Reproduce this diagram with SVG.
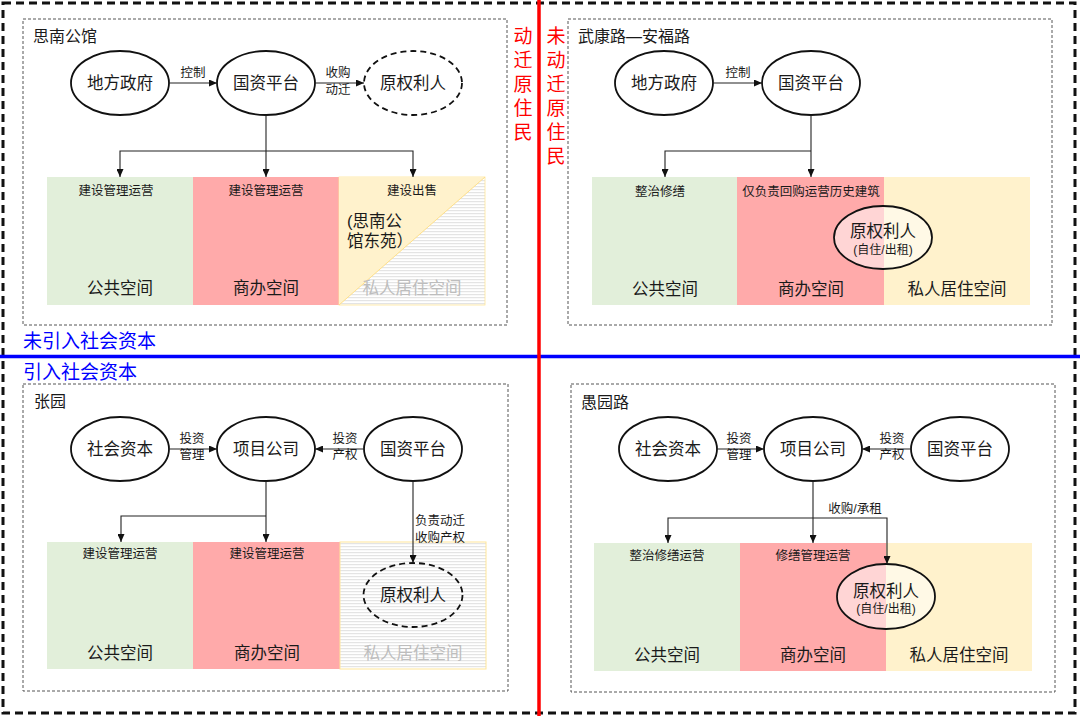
<svg xmlns="http://www.w3.org/2000/svg" width="1080" height="716" viewBox="0 0 1080 716">
<style>
text{font-family:"Liberation Sans","Noto Sans CJK SC",sans-serif;fill:#1a1a1a;text-anchor:middle;dominant-baseline:central}
.node{fill:#fff;stroke:#111;stroke-width:1.8}
.dnode{fill:none;stroke:#111;stroke-width:1.8;stroke-dasharray:6,4}
.inode{fill:#fff;fill-opacity:0.5;stroke:#111;stroke-width:1.8}
.nt{font-size:16.5px}
.lbl{font-size:12.5px}
.op{font-size:12.5px}
.sp{font-size:16.5px}
.gray{fill:#BDBDBD}
.title{font-size:16px;text-anchor:start}
.box{fill:none;stroke:#555;stroke-width:1;stroke-dasharray:3,2}
.conn{fill:none;stroke:#222;stroke-width:1.1}
.g{fill:#E2EFDA}
.p{fill:#FFAAAA}
.y{fill:#FFF2CC}
.red{font-size:19px;fill:#FF0000}
.blue{font-size:19px;fill:#0000FF;text-anchor:start}
</style>
<defs>
<marker id="arr" markerWidth="8" markerHeight="7" refX="8" refY="3.5" orient="auto" markerUnits="userSpaceOnUse">
<path d="M0,0 L8,3.5 L0,7 z" fill="#111"/>
</marker>
<pattern id="hatch" width="6" height="3" patternUnits="userSpaceOnUse">
<rect width="6" height="3" fill="#fff"/>
<rect y="0" width="6" height="1.2" fill="#E4E4E4"/>
</pattern>
</defs>
<rect width="1080" height="716" fill="#fff"/>
<rect x="3" y="3" width="1072" height="710" fill="none" stroke="#111" stroke-width="3" stroke-dasharray="8,5"/>

<!-- dotted scene boxes -->
<rect class="box" x="23" y="19" width="484" height="306"/>
<rect class="box" x="568" y="19" width="484" height="306"/>
<rect class="box" x="23" y="384" width="485" height="307"/>
<rect class="box" x="571" y="384" width="484" height="308"/>

<!-- divider lines -->
<line x1="0" y1="356.5" x2="1080" y2="356.5" stroke="#0000FF" stroke-width="3.5"/>
<line x1="539" y1="0" x2="539" y2="716" stroke="#FF0000" stroke-width="3.5"/>

<!-- quadrant labels -->
<g id="label-relocated">
<text class="red" x="523" y="36">动</text>
<text class="red" x="523" y="60">迁</text>
<text class="red" x="523" y="84">原</text>
<text class="red" x="523" y="108">住</text>
<text class="red" x="523" y="132">民</text>
</g>
<g id="label-not-relocated">
<text class="red" x="556" y="36">未</text>
<text class="red" x="556" y="60">动</text>
<text class="red" x="556" y="84">迁</text>
<text class="red" x="556" y="108">原</text>
<text class="red" x="556" y="132">住</text>
<text class="red" x="556" y="156">民</text>
</g>
<text class="blue" id="label-no-capital" x="23" y="341">未引入社会资本</text>
<text class="blue" id="label-capital" x="23" y="372">引入社会资本</text>

<!-- ============ Top-left: 思南公馆 ============ -->
<text class="title" x="33" y="36">思南公馆</text>
<g id="tl-public"><rect class="g" x="47" y="177" width="146" height="128"/>
<text class="op" x="116" y="191">建设管理运营</text><text class="sp" x="120" y="288">公共空间</text></g>
<g id="tl-commercial"><rect class="p" x="193" y="177" width="146" height="128"/>
<text class="op" x="266" y="191">建设管理运营</text><text class="sp" x="266" y="288">商办空间</text></g>
<g id="tl-private">
<rect x="339" y="177" width="146" height="128" fill="url(#hatch)" stroke="#FFE699" stroke-width="0.8"/>
<polygon class="y" points="339,177 485,177 339,305"/>
<line x1="339" y1="305" x2="485" y2="177" stroke="#FFE08A" stroke-width="1"/>
<text class="op" x="412" y="191">建设出售</text>
<text class="sp" x="347" y="221" style="text-anchor:start">(思南公</text>
<text class="sp" x="347" y="241" style="text-anchor:start">馆东苑）</text>
<text class="sp gray" x="412" y="288">私人居住空间</text></g>
<g id="tl-gov"><ellipse class="node" cx="120" cy="83" rx="49" ry="32"/><text class="nt" x="120" y="83">地方政府</text></g>
<g id="tl-soe"><ellipse class="node" cx="266" cy="83" rx="49" ry="32"/><text class="nt" x="266" y="83">国资平台</text></g>
<g id="tl-owner"><ellipse class="dnode" cx="413" cy="83" rx="49" ry="32"/><text class="nt" x="413" y="83">原权利人</text></g>

<!-- ============ Top-right: 武康路—安福路 ============ -->
<text class="title" x="578" y="36">武康路—安福路</text>
<g id="tr-public"><rect class="g" x="592" y="177" width="145" height="128"/>
<text class="op" x="660" y="192">整治修缮</text><text class="sp" x="665" y="289">公共空间</text></g>
<g id="tr-commercial"><rect class="p" x="737" y="177" width="147" height="128"/>
<text class="op" x="811" y="192">仅负责回购运营历史建筑</text><text class="sp" x="811" y="289">商办空间</text></g>
<g id="tr-private"><rect class="y" x="884" y="177" width="146" height="128"/>
<text class="sp" x="957" y="289">私人居住空间</text></g>
<g id="tr-owner"><ellipse class="inode" cx="883" cy="237.5" rx="49" ry="31.5"/>
<text class="nt" x="883" y="231">原权利人</text><text style="font-size:12px" x="883" y="250">(自住/出租)</text></g>
<g id="tr-gov"><ellipse class="node" cx="664" cy="83" rx="49" ry="32"/><text class="nt" x="664" y="83">地方政府</text></g>
<g id="tr-soe"><ellipse class="node" cx="811" cy="83" rx="49" ry="32"/><text class="nt" x="811" y="83">国资平台</text></g>

<!-- ============ Bottom-left: 张园 ============ -->
<text class="title" x="34" y="401">张园</text>
<g id="bl-public"><rect class="g" x="47" y="542" width="146" height="127"/>
<text class="op" x="120" y="554">建设管理运营</text><text class="sp" x="120" y="653">公共空间</text></g>
<g id="bl-commercial"><rect class="p" x="193" y="542" width="147" height="127"/>
<text class="op" x="267" y="554">建设管理运营</text><text class="sp" x="267" y="653">商办空间</text></g>
<g id="bl-private"><rect x="340" y="542" width="146" height="127" fill="url(#hatch)" stroke="#FFE699" stroke-width="1"/>
<text class="sp gray" x="413" y="653">私人居住空间</text></g>
<g id="bl-owner"><ellipse class="dnode" cx="413" cy="595" rx="49.5" ry="32"/><text class="nt" x="413" y="595">原权利人</text></g>
<g id="bl-capital"><ellipse class="node" cx="120" cy="449" rx="49" ry="32"/><text class="nt" x="120" y="449">社会资本</text></g>
<g id="bl-company"><ellipse class="node" cx="266" cy="449" rx="49" ry="32"/><text class="nt" x="266" y="449">项目公司</text></g>
<g id="bl-soe"><ellipse class="node" cx="413" cy="449" rx="49" ry="32"/><text class="nt" x="413" y="449">国资平台</text></g>

<!-- ============ Bottom-right: 愚园路 ============ -->
<text class="title" x="581" y="402">愚园路</text>
<g id="br-public"><rect class="g" x="594" y="543" width="146" height="128"/>
<text class="op" x="667" y="556">整治修缮运营</text><text class="sp" x="667" y="655">公共空间</text></g>
<g id="br-commercial"><rect class="p" x="740" y="543" width="146" height="128"/>
<text class="op" x="813" y="556">修缮管理运营</text><text class="sp" x="813" y="655">商办空间</text></g>
<g id="br-private"><rect class="y" x="886" y="543" width="146" height="128"/>
<text class="sp" x="959" y="655">私人居住空间</text></g>
<g id="br-owner"><ellipse class="inode" cx="886" cy="596.5" rx="49" ry="32.5"/>
<text class="nt" x="886" y="591">原权利人</text><text style="font-size:12px" x="886" y="609">(自住/出租)</text></g>
<g id="br-capital"><ellipse class="node" cx="668" cy="449" rx="49" ry="32"/><text class="nt" x="668" y="449">社会资本</text></g>
<g id="br-company"><ellipse class="node" cx="813" cy="449" rx="49" ry="32"/><text class="nt" x="813" y="449">项目公司</text></g>
<g id="br-soe"><ellipse class="node" cx="960" cy="449" rx="49" ry="32"/><text class="nt" x="960" y="449">国资平台</text></g>

<!-- ============ connectors ============ -->
<g id="connectors">
<path class="conn" d="M169,83 L217,83" marker-end="url(#arr)"/>
<path class="conn" d="M315,83 L364,83" marker-end="url(#arr)"/>
<path class="conn" d="M266,115 L266,177" marker-end="url(#arr)"/>
<path class="conn" d="M266,151 L120,151 L120,177" marker-end="url(#arr)"/>
<path class="conn" d="M266,151 L413,151 L413,177" marker-end="url(#arr)"/>

<path class="conn" d="M713,83 L762,83" marker-end="url(#arr)"/>
<path class="conn" d="M811,115 L811,177" marker-end="url(#arr)"/>
<path class="conn" d="M811,151 L665,151 L665,177" marker-end="url(#arr)"/>

<path class="conn" d="M169,449 L217,449" marker-end="url(#arr)"/>
<path class="conn" d="M364,449 L315,449" marker-end="url(#arr)"/>
<path class="conn" d="M266,481 L266,542" marker-end="url(#arr)"/>
<path class="conn" d="M266,516 L121,516 L121,542" marker-end="url(#arr)"/>
<path class="conn" d="M413,481 L413,563" marker-end="url(#arr)"/>

<path class="conn" d="M717,449 L764,449" marker-end="url(#arr)"/>
<path class="conn" d="M911,449 L862,449" marker-end="url(#arr)"/>
<path class="conn" d="M813,481 L813,543" marker-end="url(#arr)"/>
<path class="conn" d="M813,518 L668,518 L668,543" marker-end="url(#arr)"/>
<path class="conn" d="M813,518 L887,518 L887,564" marker-end="url(#arr)"/>

<text class="lbl" x="193" y="73">控制</text>
<text class="lbl" x="338" y="73">收购</text>
<text class="lbl" x="338" y="90">动迁</text>
<text class="lbl" x="738" y="73">控制</text>
<text class="lbl" x="192" y="439">投资</text>
<text class="lbl" x="192" y="455">管理</text>
<text class="lbl" x="345" y="439">投资</text>
<text class="lbl" x="345" y="455">产权</text>
<text class="lbl" x="440" y="521">负责动迁</text>
<text class="lbl" x="440" y="538">收购产权</text>
<text class="lbl" x="739" y="439">投资</text>
<text class="lbl" x="739" y="455">管理</text>
<text class="lbl" x="892" y="439">投资</text>
<text class="lbl" x="892" y="455">产权</text>
<text class="lbl" x="855" y="509">收购/承租</text>
</g>
</svg>
